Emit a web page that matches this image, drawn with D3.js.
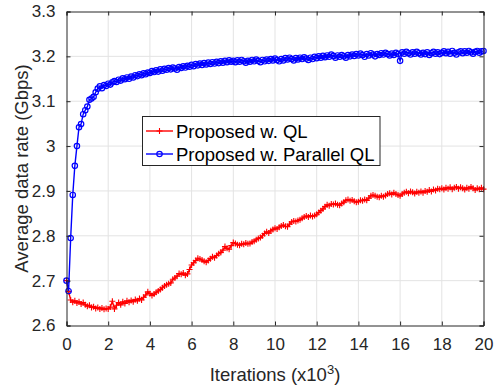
<!DOCTYPE html>
<html>
<head>
<meta charset="utf-8">
<script src="https://cdn.jsdelivr.net/npm/d3@7"></script>
<style>
  body { margin: 0; background: #fff; }
  svg text { font-family: "Liberation Sans", Arial, sans-serif; fill: #262626; }
</style>
</head>
<body>
<svg id="chart" width="502" height="388"></svg>
<script>
// iterations, x10^3, step 0.1
var STEP = 0.1;

var parallelQL = [
  2.700, 2.677, 2.795, 2.891, 2.956, 3.000, 3.042, 3.049, 3.071, 3.080,
  3.088, 3.103, 3.106, 3.110, 3.120, 3.128, 3.133, 3.129, 3.136, 3.134,
  3.139, 3.137, 3.142, 3.145, 3.143, 3.148, 3.146, 3.151, 3.149, 3.153,
  3.150, 3.155, 3.153, 3.158, 3.156, 3.160, 3.158, 3.162, 3.160, 3.164,
  3.163, 3.167, 3.165, 3.169, 3.166, 3.171, 3.168, 3.172, 3.170, 3.174,
  3.171, 3.175, 3.173, 3.170, 3.176, 3.174, 3.178, 3.175, 3.179, 3.177,
  3.181, 3.178, 3.183, 3.180, 3.184, 3.181, 3.185, 3.182, 3.186, 3.183,
  3.187, 3.184, 3.188, 3.185, 3.189, 3.186, 3.190, 3.187, 3.191, 3.188,
  3.190, 3.187, 3.191, 3.188, 3.192, 3.189, 3.186, 3.190, 3.188, 3.192,
  3.189, 3.193, 3.190, 3.187, 3.192, 3.189, 3.193, 3.190, 3.194, 3.191,
  3.195, 3.192, 3.189, 3.194, 3.191, 3.196, 3.193, 3.197, 3.194, 3.191,
  3.196, 3.193, 3.197, 3.194, 3.198, 3.195, 3.192, 3.197, 3.194, 3.199,
  3.196, 3.200, 3.197, 3.201, 3.198, 3.202, 3.199, 3.204, 3.201, 3.197,
  3.202, 3.199, 3.203, 3.200, 3.197, 3.203, 3.200, 3.204, 3.201, 3.205,
  3.202, 3.206, 3.203, 3.199, 3.205, 3.202, 3.207, 3.204, 3.200, 3.205,
  3.203, 3.207, 3.204, 3.208, 3.205, 3.202, 3.206, 3.203, 3.208, 3.205,
  3.190, 3.209, 3.206, 3.210, 3.207, 3.204, 3.209, 3.206, 3.210, 3.207,
  3.204, 3.208, 3.205, 3.209, 3.203, 3.207, 3.210, 3.206, 3.209, 3.205,
  3.208, 3.211, 3.207, 3.210, 3.206, 3.212, 3.208, 3.204, 3.209, 3.211,
  3.207, 3.211, 3.208, 3.212, 3.209, 3.206, 3.210, 3.212, 3.208, 3.211,
  3.212
];

var plainQL = [
  2.700, 2.676, 2.657, 2.652, 2.655, 2.650, 2.653, 2.648, 2.651, 2.646,
  2.643, 2.645, 2.640, 2.642, 2.638, 2.640, 2.637, 2.639, 2.636, 2.638,
  2.637, 2.641, 2.654, 2.637, 2.645, 2.651, 2.646, 2.653, 2.649, 2.655,
  2.652, 2.656, 2.653, 2.658, 2.655, 2.660, 2.657, 2.663, 2.668, 2.675,
  2.671, 2.667, 2.670, 2.674, 2.677, 2.680, 2.684, 2.688, 2.691, 2.693,
  2.695, 2.703, 2.706, 2.710, 2.716, 2.714, 2.717, 2.712, 2.715, 2.725,
  2.735, 2.740, 2.745, 2.750, 2.748, 2.746, 2.743, 2.741, 2.745, 2.749,
  2.753, 2.751, 2.756, 2.760, 2.763, 2.768, 2.776, 2.772, 2.770, 2.778,
  2.785, 2.783, 2.780, 2.779, 2.782, 2.781, 2.784, 2.782, 2.783, 2.786,
  2.788, 2.791, 2.794, 2.796, 2.800, 2.805, 2.809, 2.806, 2.811, 2.814,
  2.817, 2.815, 2.819, 2.822, 2.824, 2.821, 2.820, 2.826, 2.831, 2.833,
  2.832, 2.834, 2.836, 2.839, 2.842, 2.844, 2.842, 2.845, 2.843, 2.845,
  2.848, 2.852, 2.856, 2.860, 2.865, 2.869, 2.867, 2.871, 2.870, 2.872,
  2.869, 2.868, 2.872, 2.875, 2.879, 2.881, 2.878, 2.880, 2.877, 2.875,
  2.876, 2.879, 2.878, 2.881, 2.879, 2.884, 2.889, 2.891, 2.889, 2.887,
  2.886, 2.889, 2.887, 2.890, 2.893, 2.895, 2.892, 2.896, 2.893, 2.891,
  2.889, 2.893, 2.896, 2.898, 2.895, 2.899, 2.897, 2.894, 2.898, 2.896,
  2.899, 2.896, 2.900, 2.898, 2.902, 2.899, 2.903, 2.901, 2.905, 2.904,
  2.906, 2.903, 2.907, 2.905, 2.908, 2.904, 2.907, 2.909, 2.905, 2.908,
  2.906, 2.903, 2.907, 2.905, 2.909, 2.906, 2.902, 2.906, 2.904, 2.907,
  2.904
];

var xTicks = [0, 2, 4, 6, 8, 10, 12, 14, 16, 18, 20];
var yTicks = [2.6, 2.7, 2.8, 2.9, 3.0, 3.1, 3.2, 3.3];
var legendLabels = ["Proposed w. QL", "Proposed w. Parallel QL"];

var AXIS_COLOR = "#262626";
var GRID_COLOR = "#e3e3e3";
var TICK_LEN = 4;
var LABEL_SIZE = "18.5px";

var margin = { left: 66.5, top: 11.5, right: 502 - 483.5, bottom: 388 - 325.5 };
var svg = d3.select("#chart");
var width = 502 - margin.left - margin.right;
var height = 388 - margin.top - margin.bottom;

var x = d3.scaleLinear().domain([0, 20]).range([0, width]);
var y = d3.scaleLinear().domain([2.6, 3.3]).range([height, 0]);

var g = svg.append("g").attr("transform", "translate(" + margin.left + "," + margin.top + ")");

// grid
g.selectAll("line.gx").data(xTicks.slice(1, -1)).enter().append("line")
  .attr("x1", d => x(d)).attr("x2", d => x(d)).attr("y1", 0).attr("y2", height)
  .attr("stroke", GRID_COLOR).attr("stroke-width", 1);
g.selectAll("line.gy").data(yTicks.slice(1, -1)).enter().append("line")
  .attr("y1", d => y(d)).attr("y2", d => y(d)).attr("x1", 0).attr("x2", width)
  .attr("stroke", GRID_COLOR).attr("stroke-width", 1);

// data lines
function pts(arr) { return arr.map((v, i) => [i * STEP, v]); }
var line = d3.line().x(d => x(d[0])).y(d => y(d[1]));

var redPts = pts(plainQL), bluePts = pts(parallelQL);

function plusPath(cx, cy, h) {
  return "M" + (cx - h) + "," + cy + "h" + (2 * h) + "M" + cx + "," + (cy - h) + "v" + (2 * h);
}

g.append("path").datum(redPts).attr("d", line)
  .attr("fill", "none").attr("stroke", "#ff0000").attr("stroke-width", 1.4);
g.selectAll("path.plus").data(redPts).enter().append("path")
  .attr("d", d => plusPath(x(d[0]), y(d[1]), 3))
  .attr("stroke", "#ff0000").attr("stroke-width", 1.1).attr("fill", "none");

g.append("path").datum(bluePts).attr("d", line)
  .attr("fill", "none").attr("stroke", "#0000ff").attr("stroke-width", 1.4);
g.selectAll("circle.mk").data(bluePts).enter().append("circle")
  .attr("cx", d => x(d[0])).attr("cy", d => y(d[1])).attr("r", 2.7)
  .attr("fill", "none").attr("stroke", "#0000ff").attr("stroke-width", 1.2);

// axes box + inward ticks
var xb = d3.axisBottom(x).tickValues(xTicks).tickSize(-TICK_LEN).tickPadding(12).tickFormat(d3.format("d"));
var xt = d3.axisTop(x).tickValues(xTicks).tickSize(-TICK_LEN).tickFormat("");
var yl = d3.axisLeft(y).tickValues(yTicks).tickSize(-TICK_LEN).tickPadding(11).tickFormat(d => String(+d.toFixed(1)));
var yr = d3.axisRight(y).tickValues(yTicks).tickSize(-TICK_LEN).tickFormat("");

function styleAxis(sel) {
  sel.selectAll("path.domain").attr("stroke", AXIS_COLOR).attr("stroke-width", 1);
  sel.selectAll(".tick line").attr("stroke", AXIS_COLOR);
  sel.selectAll(".tick text").attr("fill", AXIS_COLOR).style("font-size", "17px")
    .style("font-family", "'Liberation Sans', Arial, sans-serif");
}
g.append("g").attr("transform", "translate(0," + height + ")").call(xb).call(styleAxis);
g.append("g").call(xt).call(styleAxis);
g.append("g").call(yl).call(styleAxis);
g.append("g").attr("transform", "translate(" + width + ",0)").call(yr).call(styleAxis);

// axis labels
var xl = svg.append("text").attr("x", margin.left + width / 2).attr("y", 381)
  .attr("text-anchor", "middle").style("font-size", LABEL_SIZE);
xl.append("tspan").text("Iterations (x10");
xl.append("tspan").attr("dy", -7.5).style("font-size", "13px").text("3");
xl.append("tspan").attr("dy", 7.5).text(")");

svg.append("text")
  .attr("transform", "translate(28," + (margin.top + height / 2) + ") rotate(-90)")
  .attr("text-anchor", "middle").style("font-size", LABEL_SIZE)
  .text("Average data rate (Gbps)");

// legend
var lg = svg.append("g");
lg.append("rect").attr("x", 142.5).attr("y", 116.5).attr("width", 237.5).attr("height", 49)
  .attr("fill", "#fff").attr("stroke", AXIS_COLOR).attr("stroke-width", 1);
var rows = [
  { label: legendLabels[0], color: "#ff0000", mk: "plus", cy: 131 },
  { label: legendLabels[1], color: "#0000ff", mk: "circle", cy: 154 }
];
rows.forEach(function (r) {
  lg.append("line").attr("x1", 146).attr("x2", 173).attr("y1", r.cy).attr("y2", r.cy)
    .attr("stroke", r.color).attr("stroke-width", 1.4);
  if (r.mk === "plus") {
    lg.append("path").attr("d", plusPath(159.5, r.cy, 3))
      .attr("stroke", r.color).attr("stroke-width", 1.1).attr("fill", "none");
  } else {
    lg.append("circle").attr("cx", 159.5).attr("cy", r.cy).attr("r", 2.7)
      .attr("fill", "none").attr("stroke", r.color).attr("stroke-width", 1.2);
  }
  lg.append("text").attr("x", 176).attr("y", r.cy + 6.8).style("font-size", LABEL_SIZE)
    .style("fill", "#000").text(r.label);
});
</script>
</body>
</html>
